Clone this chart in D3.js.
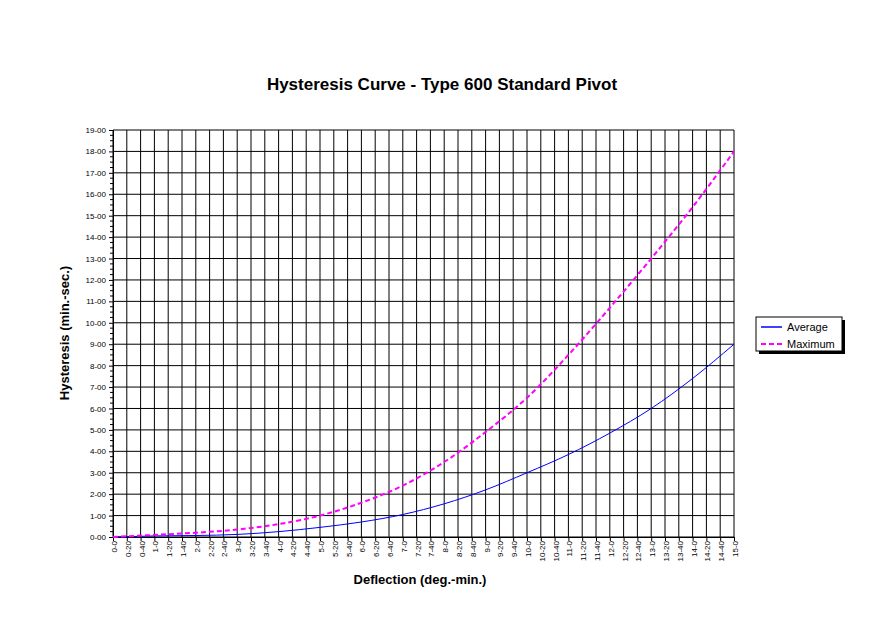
<!DOCTYPE html><html><head><meta charset="utf-8"><script src="https://cdn.jsdelivr.net/npm/d3@7"></script>
<style>body{margin:0;background:#fff}text{font-family:Arial,"Liberation Sans",sans-serif}</style></head><body>
<svg id="c" width="884" height="640"></svg>
<script>
const deflection=[0,1,2,3,4,5,6,7,8,9,10,11,12,13,14,15];
const average=[0,0.05,0.07,0.12,0.25,0.45,0.7,1.05,1.55,2.2,3.0,3.85,4.85,6.0,7.4,9.0];
const maximum=[0,0.1,0.2,0.35,0.6,1.0,1.6,2.4,3.5,4.9,6.5,8.5,10.7,13.0,15.4,18.0];
const xTicks=d3.range(0,46).map(i=>i/3);
const yTicks=d3.range(0,20);
const svg=d3.select("#c");
const L=113,R=734,T=130,B=537;
const x=d3.scaleLinear().domain([0,15]).range([L,R]);
const y=d3.scaleLinear().domain([0,19]).range([B,T]);
const g=svg.append("g");
g.selectAll(".vx").data(xTicks).join("line").attr("x1",d=>x(d)).attr("x2",d=>x(d)).attr("y1",T).attr("y2",B).attr("stroke","#000").attr("stroke-width",1);
g.selectAll(".hy").data(yTicks).join("line").attr("y1",d=>y(d)).attr("y2",d=>y(d)).attr("x1",L).attr("x2",R).attr("stroke","#000").attr("stroke-width",1);
const fmtX=d=>{const m=Math.round(d*60);return Math.floor(m/60)+"-"+(m%60);};
const xa=svg.append("g").attr("transform",`translate(0,${B})`).call(d3.axisBottom(x).tickValues(xTicks).tickFormat(fmtX).tickSize(4));
xa.select(".domain").attr("stroke","#000");
xa.selectAll("text").attr("transform","rotate(-90)").attr("text-anchor","end").attr("dx","-0.5em").attr("dy","-0.45em").style("font-size","8px");
const ya=svg.append("g").attr("transform",`translate(${L},0)`).call(d3.axisLeft(y).tickValues(yTicks).tickFormat(d=>d+"-00").tickSize(4));
ya.selectAll("text").style("font-size","8px");
svg.append("g").selectAll("line").data(d3.range(0,19,0.25).filter(v=>v%1)).join("line").attr("x1",L-3).attr("x2",L).attr("y1",d=>y(d)).attr("y2",d=>y(d)).attr("stroke","#000");
const line=d3.line().x((d,i)=>x(deflection[i])).y(d=>y(d)).curve(d3.curveMonotoneX);
svg.append("path").attr("d",line(average)).attr("fill","none").attr("stroke","#0000ff").attr("stroke-width",1);
svg.append("path").attr("d",line(maximum)).attr("fill","none").attr("stroke","#ff00ff").attr("stroke-width",2).attr("stroke-dasharray","5,3");
svg.append("text").attr("x",442).attr("y",90).attr("text-anchor","middle").style("font-size","17px").style("font-weight","bold").text("Hysteresis Curve - Type 600 Standard Pivot");
svg.append("text").attr("x",420).attr("y",584).attr("text-anchor","middle").style("font-size","13px").style("font-weight","bold").text("Deflection (deg.-min.)");
svg.append("text").attr("transform","translate(69,333) rotate(-90)").attr("text-anchor","middle").style("font-size","13px").style("font-weight","bold").text("Hysteresis (min.-sec.)");
const lg=svg.append("g");
lg.append("rect").attr("x",759).attr("y",320).attr("width",86).attr("height",34).attr("fill","#000");
lg.append("rect").attr("x",756).attr("y",317).attr("width",86).attr("height",34).attr("fill","#fff").attr("stroke","#000");
const items=[["Average","#0000ff",null,1.5],["Maximum","#ff00ff","5,3",2]];
items.forEach((it,i)=>{const yy=327+i*17;
lg.append("line").attr("x1",761).attr("x2",782).attr("y1",yy).attr("y2",yy).attr("stroke",it[1]).attr("stroke-width",it[3]).attr("stroke-dasharray",it[2]);
lg.append("text").attr("x",787).attr("y",yy+4).style("font-size","11px").text(it[0]);});
</script></body></html>
